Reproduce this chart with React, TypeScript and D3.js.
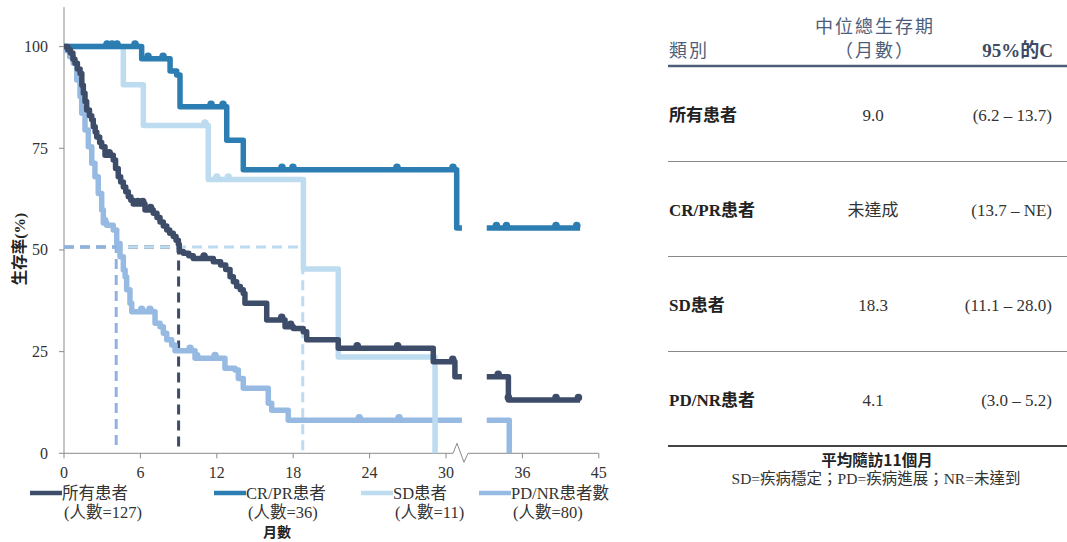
import { useEffect, useRef } from "react"
import * as d3 from "d3"

// survival steps: [month, survival %] (value after the drop)
const allSteps: [number, number][] = [
  [0, 100], [0.3, 99.2], [0.5, 98.4], [0.7, 96.9], [0.86, 95.9], [1.05, 94.5],
  [1.26, 93.4], [1.4, 90.5], [1.52, 88.5], [1.65, 86.5], [1.78, 84.4], [2.0, 83],
  [2.18, 82], [2.3, 80.3], [2.45, 79], [2.57, 77.8], [2.8, 76.4], [2.96, 75.4],
  [3.22, 73.3], [3.87, 72.1], [4.05, 70], [4.26, 68], [4.45, 66.7], [4.66, 65.5],
  [4.85, 64.3], [5.05, 63.1], [5.25, 62.2], [5.44, 61.3], [6.36, 59.8], [7.01, 59],
  [7.3, 58], [7.54, 56.9], [7.8, 55.9], [8.07, 54.9], [8.3, 54.1], [8.58, 53.3],
  [8.8, 52.4], [8.98, 51.4], [9.05, 49.6], [9.37, 49.2], [9.8, 48.6], [10.15, 47.9],
  [11.73, 47.1], [12.3, 46.3], [12.7, 45.2], [13.04, 43.4], [13.3, 42.2], [13.56, 41],
  [13.85, 40.2], [14.08, 39.3], [14.21, 36.9], [15.92, 32.8], [17.36, 31.1],
  [18.01, 30.7], [18.79, 29.9], [19.06, 27.9], [21.54, 25.8], [29.0, 22.5],
  [30.7, 18.8], [34.9, 13.1],
]
const allCensor = [3.55, 5.8, 6.18, 6.8, 11.0, 17.1, 17.8, 23.03, 26.2, 30.53, 34.1, 34.9, 39.96, 42.6]

const crprSteps: [number, number][] = [
  [0, 100], [6.1, 97.0], [8.33, 94.0], [8.85, 93.0], [9.11, 85.2], [12.78, 77.0],
  [14.08, 69.7], [30.84, 55.4],
]
const crprCensor = [3.38, 3.77, 4.16, 5.58, 6.6, 7.78, 11.55, 12.49, 17.12, 17.98, 26.15, 30.55, 33.96, 34.75, 39.96, 42.4]

const sdSteps: [number, number][] = [
  [0, 100], [4.66, 90.6], [6.23, 80.6], [11.33, 67.3], [18.8, 45.3], [21.54, 23.7], [29.14, 0],
]
const sdCensor = [11.07, 12.0, 12.9]

const pdSteps: [number, number][] = [
  [0, 100], [0.2, 99], [0.45, 97.5], [0.73, 95.9], [1.0, 91.8], [1.26, 87.7],
  [1.39, 83.6], [1.65, 79.5], [1.91, 75.4], [2.18, 71.3], [2.43, 68], [2.69, 63.9],
  [2.96, 59.8], [3.09, 56.6], [3.35, 56.1], [3.87, 54.9], [4.14, 51.6], [4.4, 48.3],
  [4.66, 45.1], [4.8, 43.4], [4.92, 40.2], [5.18, 36.9], [5.32, 34.8], [7.15, 32],
  [7.54, 31.1], [7.8, 29.5], [8.07, 27.9], [8.46, 26.6], [8.72, 25.2], [10.29, 23.4],
  [12.64, 20.9], [13.43, 20.5], [13.69, 18.4], [14.08, 16], [16.04, 12.3],
  [16.31, 10.6], [17.61, 8.1], [34.97, 0],
]
const pdCensor = [3.2, 6.1, 6.75, 9.9, 10.42, 11.86, 23.19, 26.31]

const seriesNames = ["所有患者", "CR/PR患者", "SD患者", "PD/NR患者數"]
const seriesCounts = ["(人數=127)", "(人數=36)", "(人數=11)", "(人數=80)"]
const seriesColors = ["#3d4c68", "#2b7db2", "#bddcf0", "#97bae3"]
const seriesEnds = [42.8, 42.8, 29.14, 34.97]
const medians = [9.0, 18.75, 4.1] // all, SD, PD/NR (dashed guides)
const medianColors = ["#3d4c68", "#bddcf0", "#8fb3e0"]
const medianLevel = 50.7

const xTicks = [0, 6, 12, 18, 24, 30, 36, 45]
const yTicks = [0, 25, 50, 75, 100]
const BREAK_START = 31.25
const BREAK_END = 33.2

const tableHead = ["類別", "中位總生存期", "（月數）", "95%的C"]
const tableCats = ["所有患者", "CR/PR患者", "SD患者", "PD/NR患者"]
const tableMedians = ["9.0", "未達成", "18.3", "4.1"]
const tableCIs = ["(6.2 – 13.7)", "(13.7 – NE)", "(11.1 – 28.0)", "(3.0 – 5.2)"]
const footNote1 = "平均隨訪11個月"
const footNote2 = "SD=疾病穩定；PD=疾病進展；NR=未達到"

const SERIF = "'Liberation Serif', 'Noto Sans CJK TC', serif"
const SANS = "'Noto Sans CJK TC', 'Noto Sans', sans-serif"

const App = () => {
  const ref = useRef<SVGSVGElement>(null)

  useEffect(() => {
    if (!ref.current) return
    const svg = d3.select(ref.current)
    svg.selectAll("*").remove()

    const x = d3.scaleLinear().domain([0, 36, 45]).range([64, 522.4, 598.8])
    const y = d3.scaleLinear().domain([0, 100]).range([453.3, 46.6])
    const axisColor = "#8a8a8a"

    // axes
    const ax = svg.append("g")
    ax.append("line").attr("x1", x(0)).attr("x2", x(0)).attr("y1", y(109.7)).attr("y2", y(0))
      .attr("stroke", axisColor).attr("stroke-width", 1)
    const bx = x(31.1)
    const y0 = y(0)
    ax.append("path")
      .attr("d", `M${x(0)},${y0}H${bx - 7}L${bx - 3},${y0 - 10}L${bx + 4},${y0 + 9}L${bx + 8},${y0}H${x(45)}`)
      .attr("fill", "none").attr("stroke", axisColor).attr("stroke-width", 1)
    xTicks.forEach((t) => {
      ax.append("line").attr("x1", x(t)).attr("x2", x(t)).attr("y1", y0).attr("y2", y0 + 5)
        .attr("stroke", axisColor)
      ax.append("text").attr("x", x(t)).attr("y", y0 + 25).attr("text-anchor", "middle")
        .attr("font-family", SERIF).attr("font-size", 16).attr("fill", "#333").text(t)
    })
    yTicks.forEach((t) => {
      ax.append("line").attr("x1", x(0) - 5).attr("x2", x(0)).attr("y1", y(t)).attr("y2", y(t))
        .attr("stroke", axisColor)
      ax.append("text").attr("x", 48).attr("y", y(t) + 5.5).attr("text-anchor", "end")
        .attr("font-family", SERIF).attr("font-size", 16).attr("fill", "#333").text(t)
    })
    ax.append("text").attr("transform", "translate(25,249) rotate(-90)").attr("text-anchor", "middle")
      .attr("font-family", SERIF).attr("font-weight", "bold").attr("font-size", 15.5).attr("fill", "#222")
      .text("生存率(%)")
    ax.append("text").attr("x", 277).attr("y", 537).attr("text-anchor", "middle")
      .attr("font-family", SANS).attr("font-weight", "bold").attr("font-size", 14).attr("fill", "#222")
      .text("月數")

    // median guides
    const guides = svg.append("g")
    medians.forEach((m, i) => {
      guides.append("path")
        .attr("d", `M${x(0)},${y(medianLevel)}H${x(m)}V${y(0.7)}`)
        .attr("fill", "none").attr("stroke", medianColors[i]).attr("stroke-width", 3)
        .attr("stroke-dasharray", "10,6")
    })

    // curves
    const line = d3.line<[number, number]>().x((d) => x(d[0])).y((d) => y(d[1])).curve(d3.curveStepAfter)
    const valAt = (steps: [number, number][], t: number) => {
      let v = steps[0][1]
      steps.forEach((s) => { if (s[0] <= t) v = s[1] })
      return v
    }
    const allData = [allSteps, crprSteps, sdSteps, pdSteps]
    const allCens = [allCensor, crprCensor, sdCensor, pdCensor]
    const order = [3, 2, 1, 0]
    order.forEach((i) => {
      const steps = allData[i]
      const end = seriesEnds[i]
      const g = svg.append("g")
      const segs: [number, number][][] = []
      if (end <= BREAK_START) {
        segs.push([...steps.filter((d) => d[0] < end), [end, valAt(steps, end)]])
      } else {
        segs.push([...steps.filter((d) => d[0] < BREAK_START), [BREAK_START, valAt(steps, BREAK_START)]])
        segs.push([[BREAK_END, valAt(steps, BREAK_END)], ...steps.filter((d) => d[0] > BREAK_END && d[0] < end), [end, valAt(steps, end)]])
      }
      segs.forEach((s) => {
        g.append("path").attr("d", line(s)).attr("fill", "none").attr("stroke", seriesColors[i])
          .attr("stroke-width", 5.5).attr("stroke-linejoin", "round")
      })
      allCens[i].forEach((c) => {
        g.append("circle").attr("cx", x(c)).attr("cy", y(valAt(allData[i], c)) - 2.5).attr("r", 3.8)
          .attr("fill", seriesColors[i])
      })
    })

    // legend
    const legX = [30, 214, 361, 479]
    const lg = svg.append("g")
    seriesNames.forEach((n, i) => {
      lg.append("line").attr("x1", legX[i]).attr("x2", legX[i] + 32).attr("y1", 493).attr("y2", 493)
        .attr("stroke", seriesColors[i]).attr("stroke-width", 4.5)
      lg.append("text").attr("x", legX[i] + 32).attr("y", 499).attr("font-family", SERIF)
        .attr("font-size", 16.5).attr("fill", "#333").text(n)
      lg.append("text").attr("x", legX[i] + 34).attr("y", 518).attr("font-family", SERIF)
        .attr("font-size", 16.5).attr("fill", "#333").text(seriesCounts[i])
    })

    // table
    const tb = svg.append("g")
    const head = "#4e5e7a"
    tb.append("text").attr("x", 669).attr("y", 57).attr("font-family", SANS).attr("font-size", 18)
      .attr("letter-spacing", 2).attr("fill", head).text(tableHead[0])
    tb.append("text").attr("x", 875).attr("y", 33).attr("text-anchor", "middle").attr("font-family", SANS)
      .attr("font-size", 18).attr("letter-spacing", 2).attr("fill", head).text(tableHead[1])
    tb.append("text").attr("x", 875).attr("y", 57).attr("text-anchor", "middle").attr("font-family", SANS)
      .attr("font-size", 18).attr("letter-spacing", 2).attr("fill", head).text(tableHead[2])
    tb.append("text").attr("x", 1053).attr("y", 57).attr("text-anchor", "end").attr("font-family", SERIF)
      .attr("font-weight", "bold").attr("font-size", 19).attr("fill", "#3c4a66").text(tableHead[3])
    tb.append("line").attr("x1", 668).attr("x2", 1067).attr("y1", 66).attr("y2", 66)
      .attr("stroke", "#4e5e7a").attr("stroke-width", 2.5)
    const rowY = [115, 210, 305, 400]
    tableCats.forEach((c, i) => {
      tb.append("text").attr("x", 669).attr("y", rowY[i] + 6).attr("font-family", SERIF)
        .attr("font-weight", "bold").attr("font-size", 17).attr("fill", "#222").text(c)
      tb.append("text").attr("x", 873).attr("y", rowY[i] + 6).attr("text-anchor", "middle")
        .attr("font-family", SERIF).attr("font-size", 17).attr("fill", "#333").text(tableMedians[i])
      tb.append("text").attr("x", 1052).attr("y", rowY[i] + 6).attr("text-anchor", "end")
        .attr("font-family", SERIF).attr("font-size", 17).attr("fill", "#333").text(tableCIs[i])
      if (i < 3) {
        tb.append("line").attr("x1", 668).attr("x2", 1067).attr("y1", rowY[i] + 46.5).attr("y2", rowY[i] + 46.5)
          .attr("stroke", "#888").attr("stroke-width", 1.2)
      }
    })
    tb.append("line").attr("x1", 668).attr("x2", 1067).attr("y1", 446).attr("y2", 446)
      .attr("stroke", "#444").attr("stroke-width", 1.8)
    tb.append("text").attr("x", 877).attr("y", 466).attr("text-anchor", "middle").attr("font-family", SANS)
      .attr("font-weight", "bold").attr("font-size", 15.5).attr("fill", "#222").text(footNote1)
    tb.append("text").attr("x", 876).attr("y", 484).attr("text-anchor", "middle").attr("font-family", SERIF)
      .attr("font-size", 15.5).attr("fill", "#333").text(footNote2)
  }, [])

  return (
    <svg ref={ref} width={1067} height={542} style={{ position: "absolute", left: 0, top: 0, background: "#fff" }} />
  )
}

export default App
